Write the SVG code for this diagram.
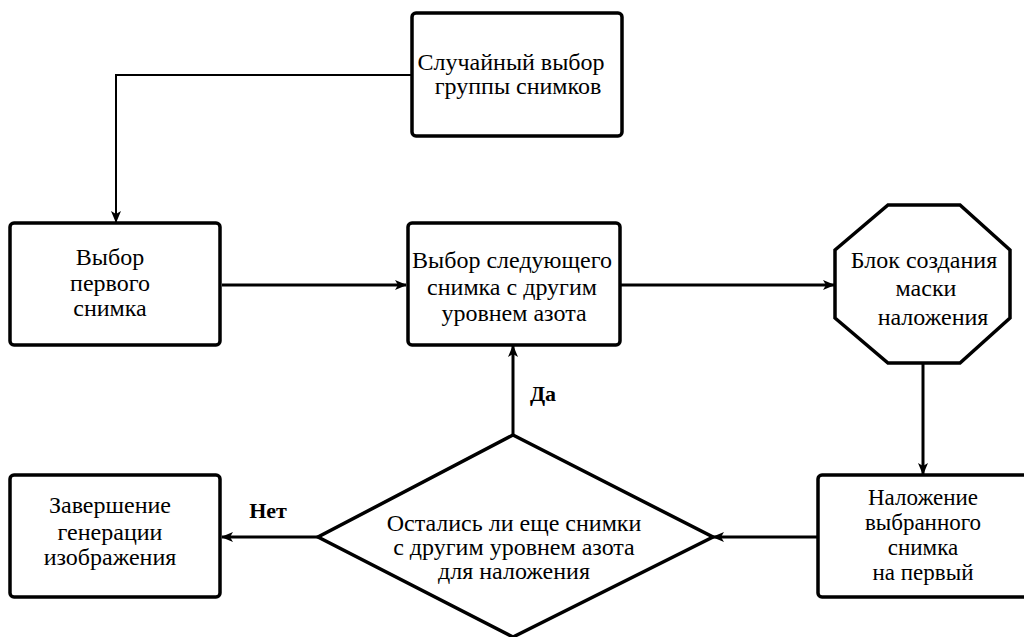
<svg xmlns="http://www.w3.org/2000/svg" width="1024" height="637" viewBox="0 0 1024 637" font-family="Liberation Serif, Times New Roman, serif">
<defs>
<marker id="arr" viewBox="0 0 12 12" refX="11" refY="6" markerWidth="12" markerHeight="12" markerUnits="userSpaceOnUse" orient="auto">
<path d="M0,1 L12,6 L0,11 L3,6 Z" fill="#000"/>
</marker>
<style>
.box{fill:#fff;stroke:#000;stroke-width:3.5}
.t{font-family:'Liberation Serif','Times New Roman',serif;font-size:24px;fill:#000;text-anchor:middle}
.s{font-size:23px}
.b{font-weight:bold;font-size:22px}
.c{fill:none;stroke:#000;stroke-width:3}
.thin{stroke-width:2}
</style>
</defs>
<rect width="1024" height="637" fill="#fff"/>
<g id="connectors">
<path class="c thin" d="M412,75 H116 V222" marker-end="url(#arr)"/>
<path class="c" d="M222,285 H406" marker-end="url(#arr)"/>
<path class="c" d="M620,285 H834" marker-end="url(#arr)"/>
<path class="c" d="M923,363 V474" marker-end="url(#arr)"/>
<path class="c" d="M818,537 H713" marker-end="url(#arr)"/>
<path class="c" d="M318,537 H222" marker-end="url(#arr)"/>
<path class="c" d="M513,435 V346" marker-end="url(#arr)"/>
<text class="t b" x="543" y="401">Да</text>
<text class="t b" x="268" y="518">Нет</text>
</g>
<g id="n1">
<rect class="box" x="412" y="13" width="210" height="123" rx="4"/>
<text class="t" x="511" y="70">Случайный выбор</text>
<text class="t" x="518" y="94">группы снимков</text>
</g>
<g id="n2">
<rect class="box" x="10" y="223" width="210" height="122" rx="4"/>
<text class="t" x="110" y="265">Выбор</text>
<text class="t" x="110" y="291">первого</text>
<text class="t" x="110" y="316">снимка</text>
</g>
<g id="n3">
<rect class="box" x="408" y="223" width="212" height="122" rx="4"/>
<text class="t" x="512" y="268">Выбор следующего</text>
<text class="t" x="512" y="295">снимка с другим</text>
<text class="t" x="514" y="321">уровнем азота</text>
</g>
<g id="n4">
<polygon class="box" points="888,205 960,205 1010,250 1010,318 960,363 888,363 835,318 835,250"/>
<text class="t" x="924" y="268">Блок создания</text>
<text class="t" x="926" y="296">маски</text>
<text class="t" x="933" y="325">наложения</text>
</g>
<g id="n5">
<rect class="box" x="818" y="475" width="212" height="122" rx="4"/>
<text class="t s" x="923" y="505">Наложение</text>
<text class="t s" x="923" y="530">выбранного</text>
<text class="t s" x="923" y="555">снимка</text>
<text class="t s" x="923" y="580">на первый</text>
</g>
<g id="n6">
<polygon class="box" points="513,435 713,537 513,637 318,537"/>
<text class="t" x="514" y="531">Остались ли еще снимки</text>
<text class="t" x="514" y="555">с другим уровнем азота</text>
<text class="t" x="514" y="579">для наложения</text>
</g>
<g id="n7">
<rect class="box" x="10" y="475" width="210" height="122" rx="4"/>
<text class="t" x="110" y="513">Завершение</text>
<text class="t" x="110" y="540">генерации</text>
<text class="t" x="110" y="565">изображения</text>
</g>
</svg>
